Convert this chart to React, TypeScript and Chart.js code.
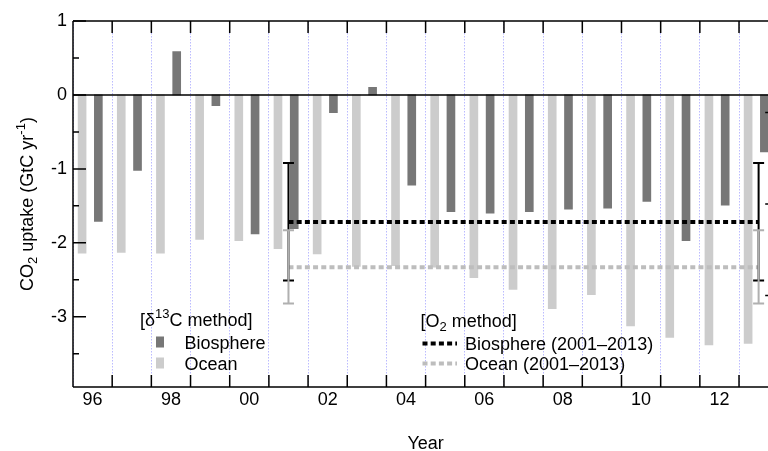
import React, { useEffect, useRef } from 'react';
import { Chart, registerables } from 'chart.js';

Chart.register(...registerables);

// ---------------- data ----------------
const years = [1996, 1997, 1998, 1999, 2000, 2001, 2002, 2003, 2004, 2005, 2006, 2007, 2008, 2009, 2010, 2011, 2012, 2013];
const biosphere13C = [-1.71, -1.02, 0.585, -0.145, -1.88, -1.81, -0.24, 0.104, -1.22, -1.58, -1.6, -1.58, -1.545, -1.53, -1.44, -1.97, -1.49, -0.77];
const ocean13C = [-2.14, -2.13, -2.14, -1.955, -1.97, -2.08, -2.15, -2.32, -2.31, -2.33, -2.47, -2.63, -2.89, -2.7, -3.125, -3.28, -3.38, -3.36];

const o2Years = [2001, 2013];
const o2Biosphere = [-1.72, -1.72];
const o2Ocean = [-2.33, -2.33];
const o2BiosphereRange = [-2.51, -0.92];
const o2OceanRange = [-2.82, -1.83];

const labelYears = [1996, 1998, 2000, 2002, 2004, 2006, 2008, 2010, 2012];
const yearLabels = ['96', '98', '00', '02', '04', '06', '08', '10', '12'];
const yTickValues = [1, 0, -1, -2, -3];
const yMinorValues = [0.5, -0.5, -1.5, -2.5, -3.5];

// ---------------- style ----------------
const FAM = "'Liberation Sans', Arial, Helvetica, sans-serif";
const OCEAN_COLOR = '#cccccc';
const BIO_COLOR = '#777777';
const O2_OCEAN_COLOR = '#bdbdbd';
const ERR_OCEAN_COLOR = '#b0b0b0';
const OCEAN_OFFSET = -0.268;
const BIO_OFFSET = 0.147;
const DASH = [5, 3.2];

type Seg = { t: string; size: number; dy: number };

function drawRich(ctx: CanvasRenderingContext2D, x: number, y: number, segs: Seg[]) {
  let cx = x;
  for (const s of segs) {
    ctx.font = `${s.size}px ${FAM}`;
    ctx.fillText(s.t, cx, y + s.dy);
    cx += ctx.measureText(s.t).width;
  }
  return cx - x;
}

function richWidth(ctx: CanvasRenderingContext2D, segs: Seg[]) {
  let w = 0;
  for (const s of segs) {
    ctx.font = `${s.size}px ${FAM}`;
    w += ctx.measureText(s.t).width;
  }
  return w;
}

const decor = {
  id: 'decor',
  afterDatasetsDraw(chart: any) {
    const { ctx, chartArea: a, scales } = chart;
    const x = scales.x;
    const y = scales.y;
    ctx.save();

    // error bars
    const drawErr = (xv: number, lo: number, hi: number, color: string) => {
      const px = x.getPixelForValue(xv);
      const p1 = y.getPixelForValue(hi);
      const p2 = y.getPixelForValue(lo);
      ctx.strokeStyle = color;
      ctx.lineWidth = 2;
      ctx.setLineDash([]);
      ctx.beginPath();
      ctx.moveTo(px, p1);
      ctx.lineTo(px, p2);
      ctx.moveTo(px - 5.5, p1);
      ctx.lineTo(px + 5.5, p1);
      ctx.moveTo(px - 5.5, p2);
      ctx.lineTo(px + 5.5, p2);
      ctx.stroke();
    };
    for (const xv of o2Years) drawErr(xv, o2BiosphereRange[0], o2BiosphereRange[1], '#000');
    for (const xv of o2Years) drawErr(xv, o2OceanRange[0], o2OceanRange[1], ERR_OCEAN_COLOR);

    // frame
    ctx.strokeStyle = '#000';
    ctx.lineWidth = 1.5;
    ctx.beginPath();
    ctx.moveTo(a.left, a.top);
    ctx.lineTo(a.left, a.bottom);
    ctx.moveTo(a.left, a.top);
    ctx.lineTo(a.right, a.top);
    ctx.moveTo(a.left, a.bottom);
    ctx.lineTo(a.right, a.bottom);
    ctx.moveTo(a.right, a.top);
    ctx.lineTo(a.right, a.bottom);
    const z = y.getPixelForValue(0);
    ctx.moveTo(a.left, z);
    ctx.lineTo(a.right, z);
    ctx.stroke();

    // y ticks (inward)
    ctx.beginPath();
    for (const v of yTickValues) {
      const p = y.getPixelForValue(v);
      ctx.moveTo(a.left, p);
      ctx.lineTo(a.left + 13, p);
    }
    for (const v of yMinorValues) {
      const p = y.getPixelForValue(v);
      ctx.moveTo(a.left, p);
      ctx.lineTo(a.left + 6, p);
    }
    // right axis ticks
    for (let k = 1; k < 4; k++) {
      const p = a.top + (k * (a.bottom - a.top)) / 4;
      ctx.moveTo(a.right, p);
      ctx.lineTo(a.right - 13, p);
    }
    // x ticks at year boundaries (top & bottom, inward)
    for (const yr of years) {
      const p = x.getPixelForValue(yr + 0.5);
      ctx.moveTo(p, a.top);
      ctx.lineTo(p, a.top + 12);
      ctx.moveTo(p, a.bottom);
      ctx.lineTo(p, a.bottom - 12);
    }
    ctx.stroke();
    ctx.restore();
  },
  afterDraw(chart: any) {
    const { ctx, chartArea: a } = chart;
    ctx.save();
    ctx.fillStyle = '#000';
    ctx.textBaseline = 'alphabetic';
    ctx.textAlign = 'left';

    // y title
    const ySegs: Seg[] = [
      { t: 'CO', size: 18, dy: 0 },
      { t: '2', size: 13, dy: 4 },
      { t: ' uptake (GtC yr', size: 18, dy: 0 },
      { t: '-1', size: 13, dy: -8 },
      { t: ')', size: 18, dy: 0 },
    ];
    ctx.save();
    ctx.translate(33, (a.top + a.bottom) / 2);
    ctx.rotate(-Math.PI / 2);
    const w = richWidth(ctx, ySegs);
    drawRich(ctx, -w / 2, 0, ySegs);
    ctx.restore();

    // x title
    ctx.font = `18px ${FAM}`;
    ctx.textAlign = 'center';
    ctx.fillText('Year', (a.left + a.right) / 2, 449);
    ctx.textAlign = 'left';

    // legend: d13C
    drawRich(ctx, 140, 325.5, [
      { t: '[δ', size: 18, dy: 0 },
      { t: '13', size: 13, dy: -8 },
      { t: 'C method]', size: 18, dy: 0 },
    ]);
    ctx.fillStyle = BIO_COLOR;
    ctx.fillRect(156, 336.5, 8, 11);
    ctx.fillStyle = OCEAN_COLOR;
    ctx.fillRect(156, 357.5, 8, 11);
    ctx.fillStyle = '#000';
    ctx.font = `18px ${FAM}`;
    ctx.fillText('Biosphere', 184.5, 348.5);
    ctx.fillText('Ocean', 184.5, 369.5);

    // legend: O2
    drawRich(ctx, 420.5, 326.5, [
      { t: '[O', size: 18, dy: 0 },
      { t: '2', size: 13, dy: 4 },
      { t: ' method]', size: 18, dy: 0 },
    ]);
    ctx.lineWidth = 4;
    ctx.setLineDash(DASH);
    ctx.strokeStyle = '#000';
    ctx.beginPath();
    ctx.moveTo(422.5, 343.5);
    ctx.lineTo(457, 343.5);
    ctx.stroke();
    ctx.strokeStyle = O2_OCEAN_COLOR;
    ctx.beginPath();
    ctx.moveTo(422.5, 363.5);
    ctx.lineTo(457, 363.5);
    ctx.stroke();
    ctx.setLineDash([]);
    ctx.fillStyle = '#000';
    ctx.font = `18px ${FAM}`;
    ctx.fillText('Biosphere (2001–2013)', 465, 349.5);
    ctx.fillText('Ocean (2001–2013)', 465, 370);
    ctx.restore();
  },
};

export default function App() {
  const ref = useRef<HTMLCanvasElement | null>(null);

  useEffect(() => {
    if (!ref.current) return;
    const chart = new Chart(ref.current, {
      type: 'bar',
      data: {
        datasets: [
          {
            type: 'line',
            label: 'Biosphere (2001–2013)',
            data: o2Years.map((yr, i) => ({ x: yr, y: o2Biosphere[i] })),
            borderColor: '#000',
            borderWidth: 4,
            borderDash: DASH,
            borderCapStyle: 'butt',
            pointRadius: 0,
            fill: false,
            order: 0,
          } as any,
          {
            type: 'line',
            label: 'Ocean (2001–2013)',
            data: o2Years.map((yr, i) => ({ x: yr, y: o2Ocean[i] })),
            borderColor: O2_OCEAN_COLOR,
            borderWidth: 4,
            borderDash: DASH,
            borderCapStyle: 'butt',
            pointRadius: 0,
            fill: false,
            order: 0,
          } as any,
          {
            type: 'bar',
            label: 'Ocean',
            data: years.map((yr, i) => ({ x: yr + OCEAN_OFFSET, y: ocean13C[i] })),
            backgroundColor: OCEAN_COLOR,
            borderWidth: 0,
            barThickness: 8,
            grouped: false,
            order: 1,
          } as any,
          {
            type: 'bar',
            label: 'Biosphere',
            data: years.map((yr, i) => ({ x: yr + BIO_OFFSET, y: biosphere13C[i] })),
            backgroundColor: BIO_COLOR,
            borderWidth: 0,
            barThickness: 8,
            grouped: false,
            order: 1,
          } as any,
        ],
      },
      options: {
        animation: false,
        responsive: false,
        maintainAspectRatio: false,
        devicePixelRatio: 1,
        events: [],
        layout: { padding: { top: 21, right: 21.8, left: 0, bottom: 0 } },
        plugins: { legend: { display: false }, tooltip: { enabled: false }, title: { display: false } },
        scales: {
          x: {
            type: 'linear',
            min: 1995.5,
            max: 2013.5,
            offset: false,
            afterBuildTicks: (s: any) => {
              s.ticks = years.map((v) => ({ value: v }));
            },
            afterFit: (s: any) => {
              s.height = 64;
            },
            grid: {
              display: true,
              offset: true,
              color: 'rgba(120,120,255,0.5)',
              lineWidth: 1,
              drawTicks: false,
            },
            border: { display: false, dash: [1.5, 1.5] },
            ticks: {
              autoSkip: false,
              maxRotation: 0,
              minRotation: 0,
              padding: 2,
              color: '#000',
              font: { family: FAM, size: 18 },
              callback: (v: any) => {
                const i = labelYears.indexOf(Math.round(Number(v)));
                return i >= 0 ? yearLabels[i] : '';
              },
            },
          },
          y: {
            min: -3.95,
            max: 1,
            afterFit: (s: any) => {
              s.width = 73;
            },
            grid: { display: false, drawTicks: false },
            border: { display: false },
            ticks: {
              stepSize: 1,
              includeBounds: false,
              padding: 6,
              color: '#000',
              font: { family: FAM, size: 18 },
              callback: (v: any) => (yTickValues.includes(Number(v)) ? String(v) : ''),
            },
          },
        },
      } as any,
      plugins: [decor],
    });
    return () => chart.destroy();
  }, []);

  return (
    <div
      style={{
        position: 'fixed',
        left: 0,
        top: 0,
        width: 768,
        height: 451,
        overflow: 'hidden',
        background: '#fff',
      }}
    >
      <canvas ref={ref} width={800} height={451} style={{ display: 'block', width: 800, height: 451 }} />
    </div>
  );
}
